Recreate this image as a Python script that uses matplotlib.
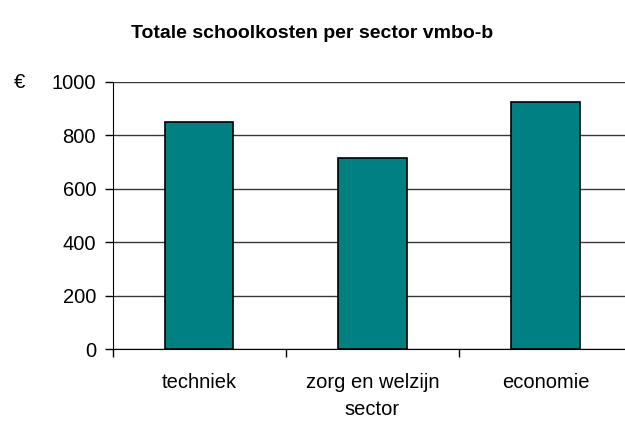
import numpy as np
import matplotlib.pyplot as plt

plt.rcParams['font.family'] = ['Liberation Sans', 'DejaVu Sans']

# data
sectors = ["techniek", "zorg en welzijn", "economie"]
kosten = [850, 715, 925]
y_ticks = [0, 200, 400, 600, 800, 1000]

fig = plt.figure(figsize=(6.25, 4.3), dpi=100)
# plot area runs a bit past the right edge, like the original
ax = fig.add_axes([0.1803, 0.1877, 0.831, 0.6223])

x = np.arange(len(sectors))
ax.bar(x, kosten, width=0.395, color="#008080", edgecolor="black",
       linewidth=1.2, zorder=3)

ax.set_xlim(-0.5, 2.5)
ax.set_ylim(0, 1000)
ax.set_yticks(y_ticks)
ax.set_yticklabels([str(v) for v in y_ticks], fontsize=14.5)
ax.yaxis.grid(True, color="#383838", linewidth=1.0, zorder=0)

ax.set_xticks(x)
ax.set_xticklabels(sectors, fontsize=14.5)
ax.set_xticks(np.arange(-0.5, 2.6, 1.0), minor=True)
ax.tick_params(axis="x", which="major", length=0, pad=17)
ax.tick_params(axis="x", which="minor", length=6, width=1, color="black",
               direction="out")
ax.tick_params(axis="y", length=6, width=1, color="black", pad=6)

for side in ["top", "right"]:
    ax.spines[side].set_visible(False)
ax.spines["left"].set_color("black")
ax.spines["bottom"].set_color("black")

ax.set_xlabel("sector", fontsize=14.5, labelpad=6)

fig.text(0.5, 1 - 34 / 430, "Totale schoolkosten per sector vmbo-b",
         ha="center", va="center", fontsize=14, fontweight="bold")
fig.text(19 / 625, 1 - 82 / 430, "€", ha="center", va="center", fontsize=14.5)

fig.savefig("out.png", dpi=100)
plt.close(fig)
